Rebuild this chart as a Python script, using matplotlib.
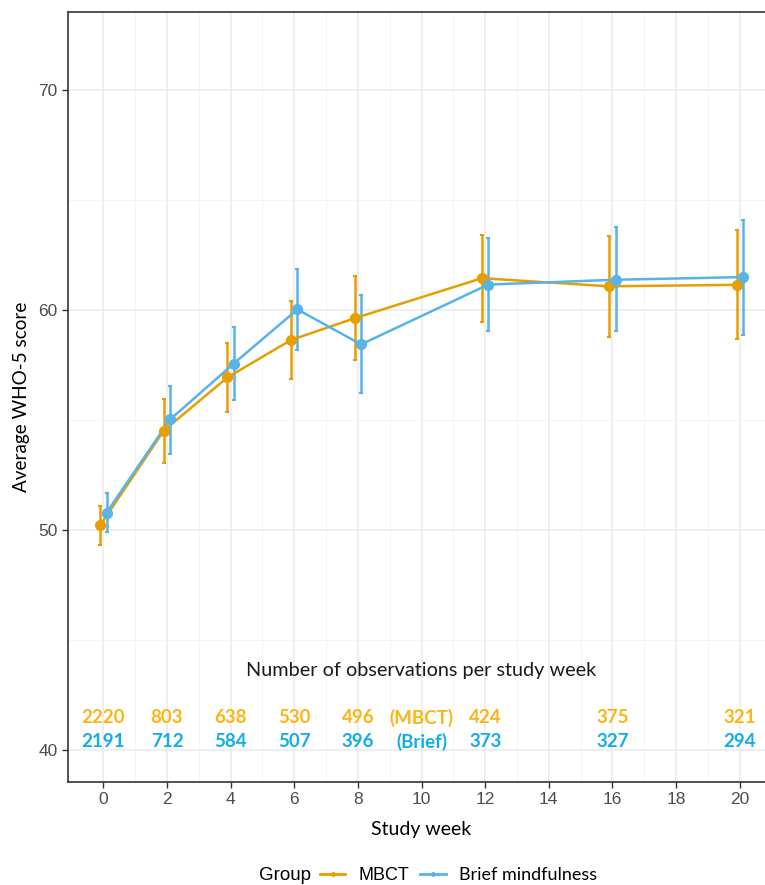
import matplotlib.pyplot as plt
import numpy as np
from matplotlib.lines import Line2D

plt.rcParams['font.family'] = ['Liberation Sans', 'DejaVu Sans']

# data
weeks = [0, 2, 4, 6, 8, 12, 16, 20]

mbct_mean = [50.21, 54.52, 56.94, 58.64, 59.63, 61.45, 61.08, 61.15]
mbct_hi = [51.08, 55.98, 58.50, 60.40, 61.54, 63.41, 63.38, 63.64]
mbct_lo = [49.34, 53.07, 55.37, 56.88, 57.75, 59.48, 58.78, 58.67]

brief_mean = [50.79, 55.03, 57.57, 60.03, 58.44, 61.16, 61.38, 61.50]
brief_hi = [51.68, 56.56, 59.25, 61.85, 60.67, 63.30, 63.76, 64.10]
brief_lo = [49.91, 53.47, 55.90, 58.18, 56.21, 59.05, 59.04, 58.87]

n_weeks = [0, 2, 4, 6, 8, 10, 12, 16, 20]
n_mbct = ["2220", "803", "638", "530", "496", "(MBCT)", "424", "375", "321"]
n_brief = ["2191", "712", "584", "507", "396", "(Brief)", "373", "327", "294"]

c_mbct = "#E69F00"
c_brief = "#56B4E9"
c_txt_mbct = "#FDB515"
c_txt_brief = "#12AEEA"

fig = plt.figure(figsize=(7.65, 8.85), dpi=100)
ax = fig.add_axes([68/765, 103/885, 707/765, 770/885])

ax.set_xlim(-1.11, 21.11)
ax.set_ylim(38.55, 73.55)

ax.set_xticks(np.arange(0, 21, 2))
ax.set_xticks(np.arange(1, 21, 2), minor=True)
ax.set_yticks([40, 50, 60, 70])
ax.set_yticks([45, 55, 65], minor=True)
ax.grid(True, which="major", color="#EBEBEB", lw=1.1)
ax.grid(True, which="minor", color="#F2F2F2", lw=0.6)
ax.set_axisbelow(True)

for s in ax.spines.values():
    s.set_color("#333333")
    s.set_linewidth(1.2)

ax.tick_params(which="major", length=4, width=1, color="#333333",
               labelsize=12.5, labelcolor="#4D4D4D")
ax.tick_params(which="minor", length=0)

dodge = 0.1
wk = np.array(weeks, dtype=float)

def draw(x, m, lo, hi, col):
    m = np.array(m); lo = np.array(lo); hi = np.array(hi)
    ax.errorbar(x, m, yerr=[m - lo, hi - m], fmt="none", ecolor=col,
                elinewidth=1.8, capsize=1.5, capthick=1.5, zorder=3)
    ax.plot(x, m, color=col, lw=1.8, zorder=4)
    ax.plot(x, m, "o", color=col, ms=7, zorder=5)

draw(wk - dodge, mbct_mean, mbct_lo, mbct_hi, c_mbct)
draw(wk + dodge, brief_mean, brief_lo, brief_hi, c_brief)

# counts
ax.text(10, 43.64, "Number of observations per study week", ha="center",
        va="center", fontsize=14.3, family="Lato", color="#1a1a1a")
for x, a, b in zip(n_weeks, n_mbct, n_brief):
    ax.text(x, 41.47, a, ha="center", va="center", fontsize=13.5,
            family="Lato", weight="bold", color=c_txt_mbct)
    ax.text(x, 40.39, b, ha="center", va="center", fontsize=13.5,
            family="Lato", weight="bold", color=c_txt_brief)

ax.set_ylabel("Average WHO-5 score", fontsize=13.6, family="Lato",
              labelpad=6)
ax.set_xlabel("Study week", fontsize=14, family="Lato", labelpad=10)

# legend
fig.text(311/765, 1 - 876/885, "Group", fontsize=13.5, family="Liberation Sans",
         va="center", ha="right")
handles = [Line2D([], [], color=c_mbct, lw=2, marker="o", ms=2.5),
           Line2D([], [], color=c_brief, lw=2, marker="o", ms=2.5)]
leg = fig.legend(handles, ["MBCT", "Brief mindfulness"], ncol=2,
                 loc="center left", bbox_to_anchor=(320/765, 1 - 876/885),
                 frameon=False, handlelength=1.4, columnspacing=0.6,
                 handletextpad=0.75, borderaxespad=0, borderpad=0,
                 prop={"family": "Lato", "size": 13})
leg.get_texts()[0].set_fontfamily("Liberation Sans")

fig.savefig("out.png", dpi=100)
